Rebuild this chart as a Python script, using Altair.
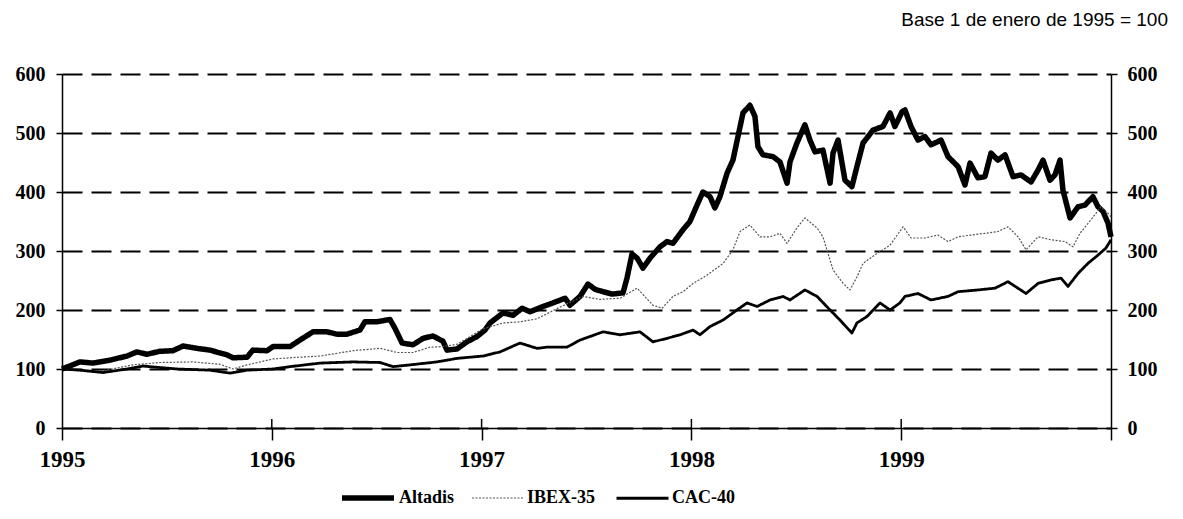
import altair as alt
import pandas as pd

# ---- data (decimal year, index base 1995 = 100) ----
series_names = ["Altadis", "IBEX-35", "CAC-40"]

altadis_t = [1995.000, 1995.086, 1995.148, 1995.229, 1995.310, 1995.357, 1995.405, 1995.467, 1995.529, 1995.577,
             1995.643, 1995.705, 1995.786, 1995.815, 1995.882, 1995.910, 1995.977,
             1996.006, 1996.087, 1996.134, 1996.196, 1996.263, 1996.311, 1996.358, 1996.420, 1996.444, 1996.501,
             1996.563, 1996.587, 1996.621, 1996.673, 1996.721, 1996.768, 1996.816, 1996.835, 1996.883, 1996.930,
             1996.978,
             1997.016, 1997.040, 1997.102, 1997.150, 1997.193, 1997.231, 1997.293, 1997.340, 1997.398, 1997.421,
             1997.469, 1997.507, 1997.541, 1997.579, 1997.622, 1997.674, 1997.693, 1997.717, 1997.741, 1997.769,
             1997.803, 1997.850, 1997.884, 1997.912, 1997.960, 1997.993,
             1998.027, 1998.055, 1998.089, 1998.112, 1998.136, 1998.170, 1998.198, 1998.222, 1998.246, 1998.279,
             1998.303, 1998.317, 1998.341, 1998.389, 1998.422, 1998.456, 1998.470, 1998.503, 1998.541, 1998.565,
             1998.589, 1998.627, 1998.661, 1998.675, 1998.699, 1998.732, 1998.765, 1998.789, 1998.818, 1998.866,
             1998.913, 1998.947, 1998.970,
             1999.004, 1999.018, 1999.047, 1999.080, 1999.113, 1999.142, 1999.190, 1999.223, 1999.271, 1999.304,
             1999.328, 1999.366, 1999.399, 1999.428, 1999.461, 1999.495, 1999.533, 1999.571, 1999.619, 1999.652,
             1999.676, 1999.709, 1999.733, 1999.757, 1999.771, 1999.805, 1999.843, 1999.876, 1999.914, 1999.938,
             1999.962, 1999.986, 2000.000]
altadis_v = [100, 112, 110, 115, 122, 129, 125, 130, 131, 139, 135, 132, 124, 119, 120, 132, 131,
             138, 138, 149, 163, 163, 159, 159, 166, 180, 180, 184, 169, 144, 141, 152, 156, 147, 132, 134, 146, 155,
             166, 178, 195, 191, 203, 197, 206, 212, 220, 208, 223, 244, 235, 231, 227, 229, 254, 295, 288, 271, 288,
             307, 316, 313, 336, 350,
             378, 400, 392, 373, 392, 432, 454, 494, 534, 547, 528, 477, 463, 460, 451, 415, 451, 483, 514, 488, 468,
             471, 415, 466, 488, 420, 409, 443, 483, 505, 511, 534, 511,
             536, 539, 511, 488, 494, 480, 488, 460, 443, 412, 449, 424, 426, 466, 454, 463, 426, 429, 417, 437, 454,
             420, 429, 454, 403, 356, 375, 378, 392, 375, 367, 347,
             324]

ibex_t = [1995.000, 1995.086, 1995.195, 1995.338, 1995.467, 1995.624, 1995.753, 1995.815, 1995.882,
          1996.006, 1996.087, 1996.230, 1996.387, 1996.516, 1996.597, 1996.673, 1996.754, 1996.816, 1996.883, 1996.945,
          1997.007, 1997.102, 1997.183, 1997.264, 1997.374, 1997.483, 1997.564, 1997.660, 1997.741, 1997.817,
          1997.860, 1997.912, 1997.960,
          1998.008, 1998.074, 1998.151, 1998.198, 1998.232, 1998.279, 1998.327, 1998.375, 1998.422, 1998.456,
          1998.503, 1998.541, 1998.599, 1998.627, 1998.646, 1998.675, 1998.723, 1998.756, 1998.789, 1998.818,
          1998.885, 1998.947,
          1999.009, 1999.047, 1999.113, 1999.175, 1999.223, 1999.271, 1999.333, 1999.399, 1999.461, 1999.509,
          1999.557, 1999.595, 1999.652, 1999.714, 1999.781, 1999.819, 1999.852, 1999.905, 1999.952, 1999.986,
          2000.000]
ibex_v = [100, 98, 97, 107, 111, 112, 108, 100, 107,
          117, 119, 122, 131, 135, 128, 128, 137, 138, 142, 155,
          168, 178, 180, 185, 205, 223, 218, 220, 237, 208, 203, 223, 231,
          245, 259, 279, 302, 333, 344, 324, 324, 330, 313, 339, 356, 339, 324, 302, 268, 245, 234, 256, 279, 296, 310,
          341, 322, 322, 327, 316, 324, 327, 330, 333, 341, 324, 302, 324, 319, 316, 307, 330, 353, 375, 364,
          358]

cac_t = [1995.000, 1995.086, 1995.195, 1995.310, 1995.386, 1995.548, 1995.705, 1995.801, 1995.882,
         1996.006, 1996.087, 1996.230, 1996.387, 1996.516, 1996.578, 1996.659, 1996.787, 1996.883,
         1997.007, 1997.088, 1997.183, 1997.264, 1997.312, 1997.407, 1997.469, 1997.579, 1997.660, 1997.755,
         1997.817, 1997.884, 1997.946,
         1998.008, 1998.041, 1998.089, 1998.151, 1998.217, 1998.265, 1998.313, 1998.375, 1998.437, 1998.470,
         1998.541, 1998.599, 1998.661, 1998.708, 1998.765, 1998.789, 1998.837, 1998.899, 1998.947, 1998.994,
         1999.018, 1999.080, 1999.142, 1999.223, 1999.271, 1999.366, 1999.447, 1999.509, 1999.595, 1999.652,
         1999.714, 1999.762, 1999.795, 1999.843, 1999.890, 1999.938, 1999.976,
         2000.000]
cac_v = [100, 98, 94, 100, 105, 100, 98, 93, 98,
         100, 104, 110, 112, 111, 104, 107, 112, 118,
         122, 129, 144, 135, 137, 137, 149, 163, 158, 163, 146, 152, 158,
         166, 158, 172, 183, 200, 212, 206, 217, 223, 217, 234, 223, 200, 183, 161, 178, 189, 212, 200, 212,
         223, 228, 217, 223, 231, 234, 237, 248, 228, 245, 251, 254, 240, 262, 279, 293, 305,
         319]

year_ticks = [1995, 1996, 1997, 1998, 1999, 2000]
inner_years = [1996, 1997, 1998, 1999]
y_ticks = [0, 100, 200, 300, 400, 500, 600]
note_text = "Base 1 de enero de 1995 = 100"

frames = []
for name, ts, vs in [("Altadis", altadis_t, altadis_v), ("IBEX-35", ibex_t, ibex_v), ("CAC-40", cac_t, cac_v)]:
    frames.append(pd.DataFrame({"t": ts, "v": vs, "serie": name}))
df = pd.concat(frames, ignore_index=True)

W, H = 1049, 354
SERIF = "Liberation Serif"

x_scale = alt.Scale(domain=[1995, 2000], nice=False, zero=False)
y_scale = alt.Scale(domain=[0, 600], nice=False)

x_axis = alt.Axis(
    values=year_ticks, format="d", title=None, grid=False,
    labelExpr="datum.value == 2000 ? '' : datum.label",
    labelAlign="center", labelFlush=False,
    tickSize=12, labelPadding=8, labelFontSize=23)

legend = alt.Legend(
    orient="none", legendX=277, legendY=395, direction="horizontal", title=None,
    symbolType="stroke", symbolSize=2704, labelFont=SERIF, labelFontWeight="bold",
    labelFontSize=18, labelColor="black", labelOffset=2, columnPadding=14,
)

lines = alt.Chart(df).mark_line(strokeJoin="round", strokeCap="butt").encode(
    x=alt.X("t:Q", scale=x_scale, axis=x_axis),
    y=alt.Y("v:Q", scale=y_scale, axis=alt.Axis(
        orient="left", values=y_ticks, title=None, grid=True,
        gridDash=[20, 9], gridWidth=2, gridColor="black",
        tickSize=6, labelPadding=11, labelFontSize=20)),
    color=alt.Color("serie:N", scale=alt.Scale(domain=series_names, range=["black", "#555555", "black"]),
                    legend=legend),
    strokeWidth=alt.StrokeWidth("serie:N", scale=alt.Scale(type="ordinal", domain=series_names,
                                                            range=[5.5, 1.2, 2.8]),
                                legend=legend),
    strokeDash=alt.StrokeDash("serie:N", scale=alt.Scale(domain=series_names, range=[[1, 0], [2, 1.5], [1, 0]]),
                              legend=legend),
)

right_axis = alt.Chart(df).mark_line(strokeOpacity=0).encode(
    x=alt.X("t:Q", scale=x_scale, axis=x_axis),
    y=alt.Y("v:Q", scale=y_scale, axis=alt.Axis(
        orient="right", values=y_ticks, title=None, grid=False,
        tickSize=6, labelPadding=10, labelFontSize=20)),
    detail="serie:N",
)

inner_ticks = alt.Chart(pd.DataFrame({"yr": inner_years})).mark_rule(color="black", strokeWidth=1.5).encode(
    x=alt.X("yr:Q", scale=x_scale, axis=x_axis),
    y=alt.value(H - 9),
    y2=alt.value(H),
)

note = alt.Chart(pd.DataFrame({"txt": [note_text]})).mark_text(
    align="right", baseline="middle", font="Liberation Sans", fontSize=19, color="black"
).encode(text="txt:N", x=alt.value(1106), y=alt.value(-54))

chart = alt.layer(lines, right_axis, inner_ticks, note).resolve_axis(y="independent").properties(
    width=W, height=H,
    autosize=alt.AutoSizeParams(type="none"),
    padding={"left": 54, "top": 66, "right": 60, "bottom": 82},
).configure_view(stroke=None).configure_axis(
    domainColor="black", domainWidth=1.5, tickColor="black", tickWidth=1.5,
    labelFont=SERIF, labelFontWeight="bold", labelColor="black",
)

chart.save("out.html", embed_options={"renderer": "svg", "actions": False})
